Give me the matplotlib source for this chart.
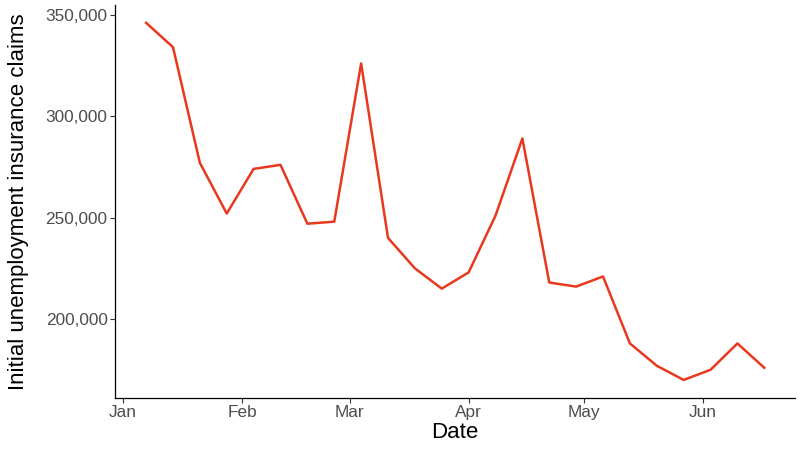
import numpy as np
import pandas as pd
import matplotlib
matplotlib.use("Agg")
import matplotlib.pyplot as plt
import matplotlib.dates as mdates
from matplotlib.ticker import FuncFormatter

# weekly initial claims, weeks ending Saturday
dates = pd.date_range("2023-01-07", periods=24, freq="7D")
claims = [346000, 334000, 277000, 252000, 274000, 276000, 247000, 248000,
          326000, 240000, 225000, 215000, 223000, 251000, 289000, 218000,
          216000, 221000, 188000, 177000, 170000, 175000, 188000, 176000]
tick_dates = pd.to_datetime(["2023-01-01", "2023-02-01", "2023-03-01",
                             "2023-04-01", "2023-05-01", "2023-06-01"])
tick_labels = ["Jan", "Feb", "Mar", "Apr", "May", "Jun"]

plt.rcParams['font.family'] = ['Liberation Sans', 'DejaVu Sans']

fig = plt.figure(figsize=(8, 4.5), dpi=100)
ax = fig.add_axes([0.144, 0.116, 0.85, 0.873])
ax.plot(dates, claims, color='#E8381E', lw=1.8)

span = dates[-1] - dates[0]
ax.set_xlim(dates[0] - span * 0.05, dates[-1] + span * 0.05)
yr = max(claims) - min(claims)
ax.set_ylim(min(claims) - yr * 0.05, max(claims) + yr * 0.05)

ax.set_xticks(tick_dates)
ax.set_xticklabels(tick_labels)
ax.set_yticks([200000, 250000, 300000, 350000])
ax.yaxis.set_major_formatter(FuncFormatter(lambda v, p: f"{int(v):,}"))

for s in ['top', 'right']:
    ax.spines[s].set_visible(False)
for s in ['left', 'bottom']:
    ax.spines[s].set_linewidth(0.9)
ax.tick_params(labelsize=12.4, colors='#4D4D4D', length=3.5, width=0.8, pad=2)
ax.tick_params(axis='both', color='#333333')

ax.set_xlabel('Date', fontsize=16, labelpad=1)
ax.set_ylabel('Initial unemployment insurance claims', fontsize=16, labelpad=12)

fig.savefig('out.png', dpi=100)
